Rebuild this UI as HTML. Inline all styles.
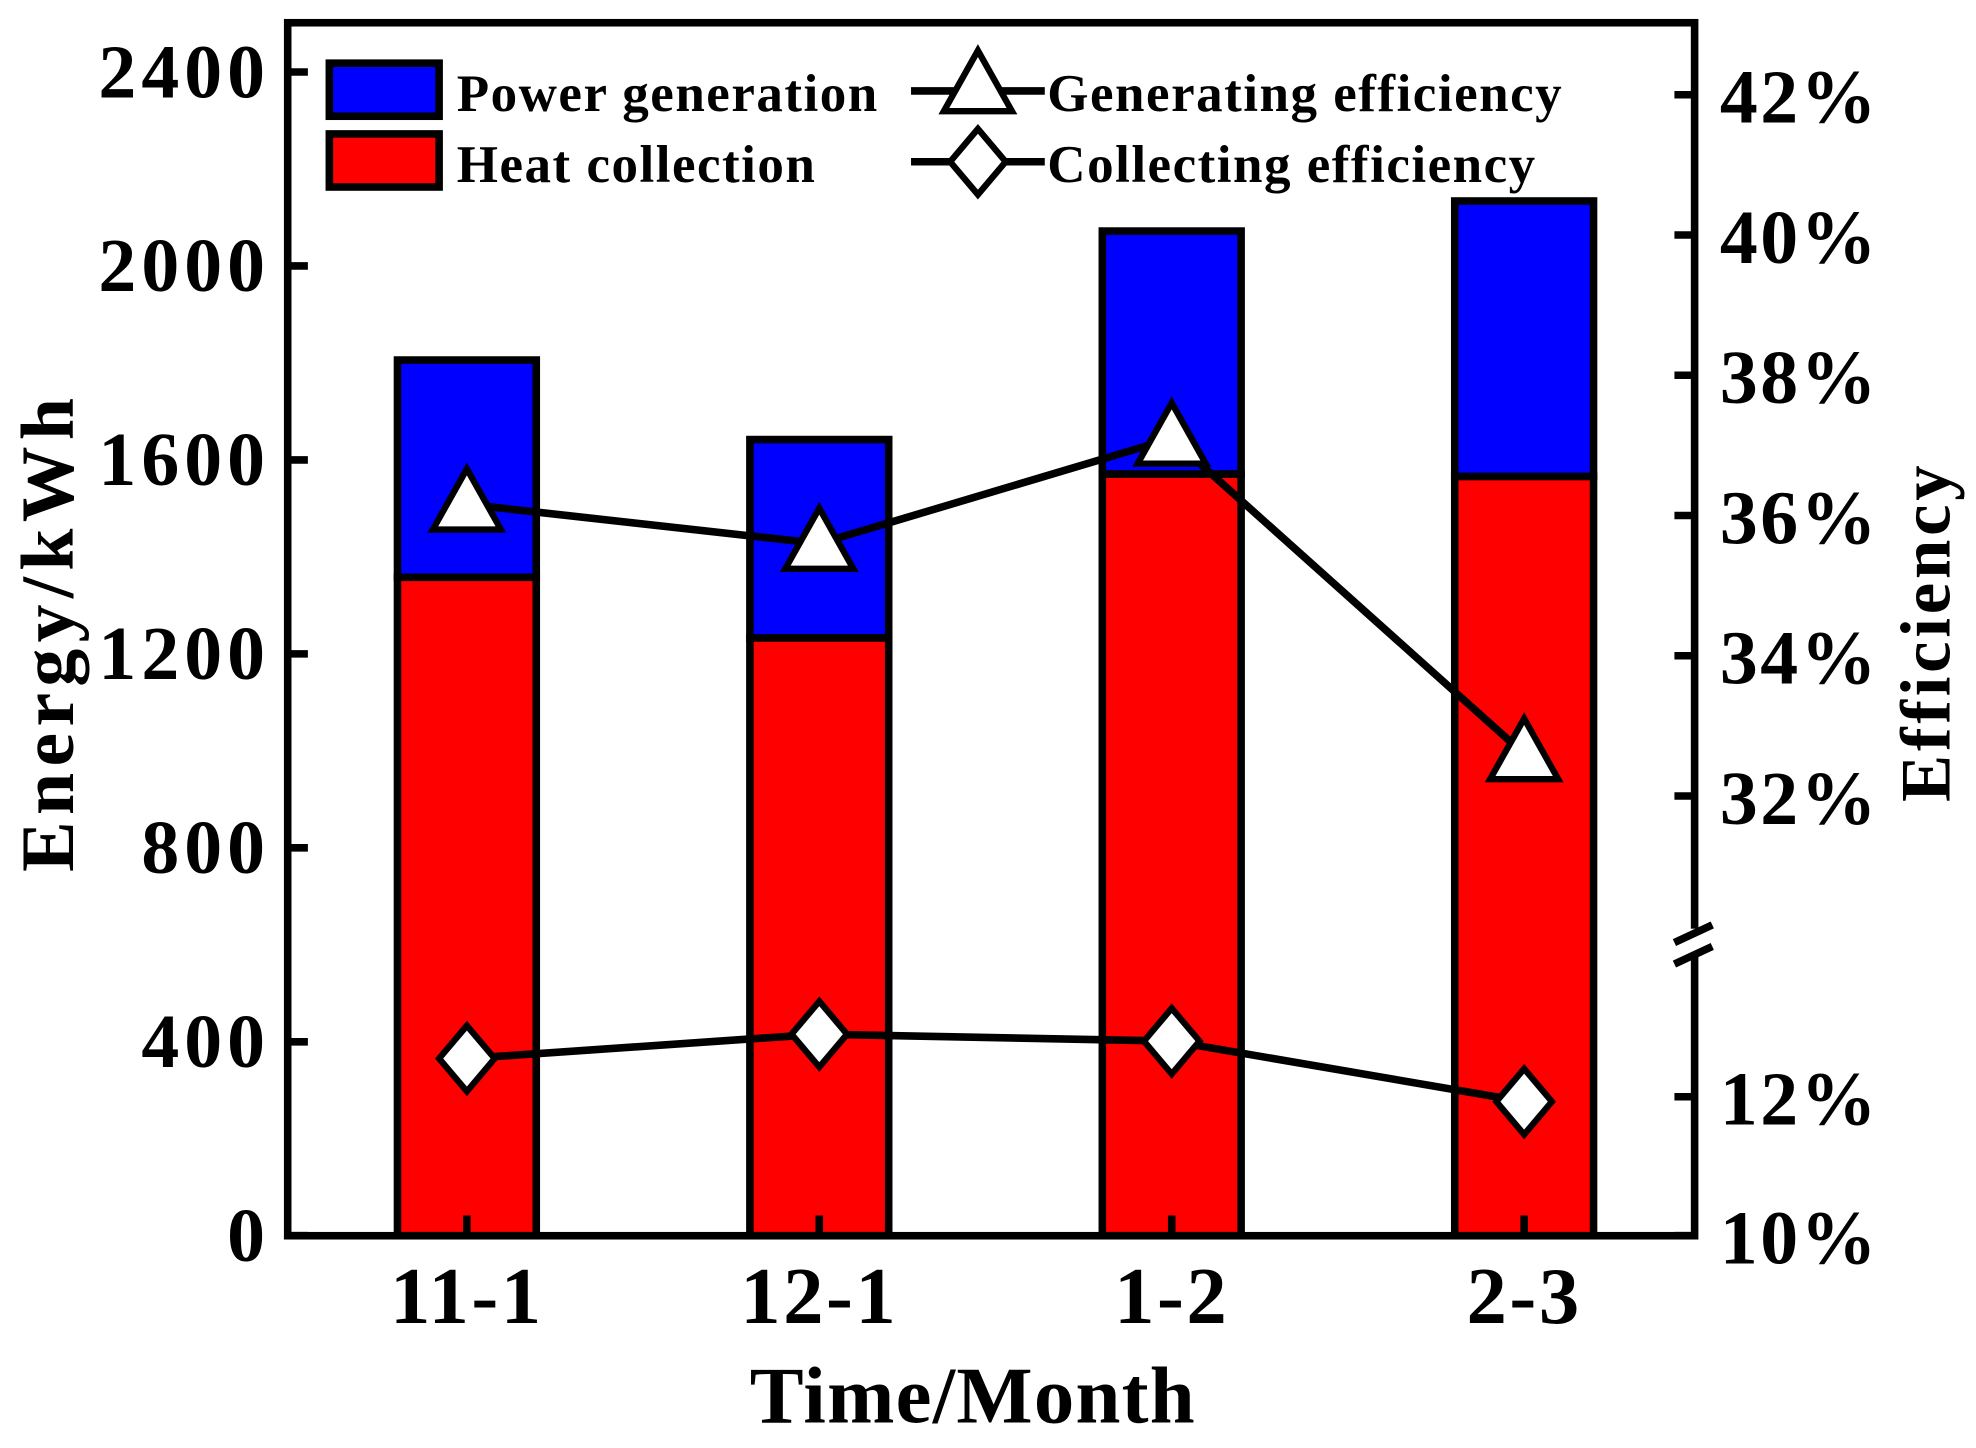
<!DOCTYPE html>
<html><head><meta charset="utf-8"><style>
html,body{margin:0;padding:0;background:#fff;}
svg{display:block;}
text{font-family:"Liberation Serif",serif;font-weight:bold;fill:#000;}
</style></head><body>
<svg id="chart" width="1976" height="1448" viewBox="0 0 1566 1146" preserveAspectRatio="none" xmlns="http://www.w3.org/2000/svg">
<g id="bars"></g>
<g id="lines"></g>
<g id="axes"></g>
<g id="legend"></g>
</svg>
<script>
const categories = ["11-1","12-1","1-2","2-3"];
const heatCollection = [1358,1233,1571,1566];
const powerGeneration = [448,409,501,568];
const generatingEff = [36.16,35.6,37.1,32.6];
const collectingEff = [12.55,12.9,12.8,11.93];
const leftTicks = [0,400,800,1200,1600,2000,2400];
const rightTicksLow = [10,12];
const rightTicksHigh = [32,34,36,38,40,42];

const NS="http://www.w3.org/2000/svg";
const L=228,R=1343,T=18,B=978;
function yL(v){return B - v*(921/2400);}
function yR(p){return p<=20 ? B-(p-10)*55 : 630-(p-32)*55.5;}
function xC(i){return 370 + i*279.3;}
function mk(tag,attrs,parent){const e=document.createElementNS(NS,tag);for(const k in attrs)e.setAttribute(k,attrs[k]);parent.appendChild(e);return e;}
const bars=document.getElementById('bars'),lines=document.getElementById('lines'),axes=document.getElementById('axes'),legend=document.getElementById('legend');
const bw=110;
categories.forEach((c,i)=>{
  const x=xC(i)-bw/2;
  const r=mk('rect',{x:x,y:yL(heatCollection[i]),width:bw,height:B-yL(heatCollection[i]),fill:'#ff0000',stroke:'#000','stroke-width':6},bars);
  
  
  const tot=heatCollection[i]+powerGeneration[i];
  const p=mk('rect',{x:x,y:yL(tot),width:bw,height:yL(heatCollection[i])-yL(tot),fill:'#0000ff',stroke:'#000','stroke-width':6},bars);
  
  
});
function series(vals,name,shape){
  const pts=vals.map((v,i)=>[xC(i),yR(v)]);
  const pl=mk('polyline',{points:pts.map(p=>p.join(',')).join(' '),fill:'none',stroke:'#000','stroke-width':6},lines);
  
  
  pts.forEach((p,i)=>{
    const m=marker(p[0],p[1],shape,lines);
    
    
  });
}
function marker(x,y,shape,parent){
  if(shape==='tri'){
    return mk('polygon',{points:`${x},${y-28} ${x-27},${y+20} ${x+27},${y+20}`,fill:'#fff',stroke:'#000','stroke-width':5,'stroke-linejoin':'miter'},parent);
  }
  return mk('polygon',{points:`${x},${y-26} ${x+22},${y} ${x},${y+26} ${x-22},${y}`,fill:'#fff',stroke:'#000','stroke-width':5},parent);
}
series(generatingEff,'generating-efficiency','tri');
series(collectingEff,'collecting-efficiency','dia');

const fr=mk('rect',{x:L,y:T,width:R-L,height:B-T,fill:'none',stroke:'#000','stroke-width':6},axes);


mk('rect',{x:1332,y:735,width:20,height:22,fill:'#fff'},axes);
mk('line',{x1:1327,y1:746,x2:1357,y2:732,stroke:'#000','stroke-width':6},axes);
mk('line',{x1:1327,y1:763,x2:1357,y2:749,stroke:'#000','stroke-width':6},axes);
leftTicks.forEach(v=>{
  mk('line',{x1:L,y1:yL(v),x2:L+16,y2:yL(v),stroke:'#000','stroke-width':6},axes);
  const t=mk('text',{x:L-14,y:yL(v)+20,'text-anchor':'end','font-size':60,'letter-spacing':4},axes);
  t.textContent=v;
  
  
});
rightTicksLow.concat(rightTicksHigh).forEach(v=>{
  mk('line',{x1:R-16,y1:yR(v),x2:R,y2:yR(v),stroke:'#000','stroke-width':6},axes);
  const t=mk('text',{x:R+20,y:yR(v)+22,'font-size':60,'letter-spacing':2},axes);
  t.textContent=v+'%';
  
  
});
categories.forEach((c,i)=>{
  mk('line',{x1:xC(i),y1:B,x2:xC(i),y2:B-16,stroke:'#000','stroke-width':6},axes);
  const t=mk('text',{x:xC(i),y:1047,'text-anchor':'middle','font-size':64,'letter-spacing':2},axes);
  t.textContent=c;
  
  
});
const xt=mk('text',{x:771,y:1126,'text-anchor':'middle','font-size':64,'letter-spacing':1},axes);
xt.textContent='Time/Month';


const yt=mk('text',{x:0,y:0,'text-anchor':'middle','font-size':60,'letter-spacing':5,transform:'translate(58,500) rotate(-90)'},axes);
yt.textContent='Energy/kWh';


const yt2=mk('text',{x:0,y:0,'text-anchor':'middle','font-size':56,'letter-spacing':3,transform:'translate(1545,500) rotate(-90)'},axes);
yt2.textContent='Efficiency';



mk('rect',{x:261,y:50,width:87,height:42,fill:'#0000ff',stroke:'#000','stroke-width':6},legend);
mk('rect',{x:261,y:106,width:87,height:42,fill:'#ff0000',stroke:'#000','stroke-width':6},legend);
const lt=[['Power generation',362,88],['Heat collection',362,144],['Generating efficiency',830,88],['Collecting efficiency',830,144]];
lt.forEach(a=>{
  const t=mk('text',{x:a[1],y:a[2],'font-size':42,'letter-spacing':1.2},legend);
  t.textContent=a[0];
  
  
});
mk('line',{x1:722,y1:72,x2:828,y2:72,stroke:'#000','stroke-width':6},legend);
marker(775,68,'tri',legend);
mk('line',{x1:722,y1:128,x2:828,y2:128,stroke:'#000','stroke-width':6},legend);
marker(775,128,'dia',legend);
</script>
</body></html>
